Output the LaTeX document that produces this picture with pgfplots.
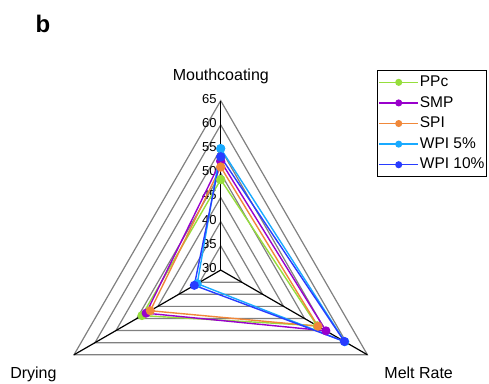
\documentclass[border=0pt]{standalone}
\usepackage{pgfplots}
\pgfplotsset{compat=1.18}
\usepackage{pgfplotstable}
\usepackage{fontspec}
\setmainfont{Liberation Sans}

\definecolor{cppc}{RGB}{150,222,60}
\definecolor{csmp}{RGB}{153,0,204}
\definecolor{cspi}{RGB}{240,136,58}
\definecolor{cwpia}{RGB}{25,170,255}
\definecolor{cwpib}{RGB}{40,60,255}
\definecolor{cgrid}{RGB}{128,128,128}

% angle: 90 = Mouthcoating, 210 = Drying, 330 = Melt Rate
\pgfplotstableread{
a v
90 48.7
210 48.8
330 53.0
90 48.7
}\ppc
\pgfplotstableread{
a v
90 52.5
210 47.8
330 55.1
90 52.5
}\smp
\pgfplotstableread{
a v
90 51.3
210 46.8
330 53.2
90 51.3
}\spi
\pgfplotstableread{
a v
90 55.1
210 35.6
330 59.6
90 55.1
}\wpia
\pgfplotstableread{
a v
90 53.4
210 36.3
330 59.5
90 53.4
}\wpib

\begin{document}
\begin{tikzpicture}
\begin{axis}[
  x=4.84pt, y=4.84pt,
  xmin=-45.6, xmax=55.43, ymin=-23.35, ymax=55.8,
  hide axis, clip=false,
  radar/.style={line width=1.4pt, mark=*, mark size=3.8pt},
  legend style={at={(axis cs:32.29,41.32)}, anchor=north west, draw=black, line width=1pt,
    font=\fontsize{15.5}{18}\selectfont, inner xsep=1pt, inner ysep=3pt, row sep=3.1pt,
    nodes={inner sep=1pt, text height=12pt, text depth=3.5pt}},
  legend cell align=left,
  legend image code/.code={
    \draw[#1, line width=1.4pt, mark=none] (0pt,0pt) -- (39pt,0pt);
    \draw[#1, mark size=3pt, line width=1pt] plot coordinates {(19.5pt,0pt)};
  },
]
\coordinate (BL) at (axis cs:-45.6,-23.35);
\coordinate (TR) at (axis cs:55.43,55.8);
% grid triangles
\pgfplotsinvokeforeach{5,10,15,20,25,30,35}{
  \draw[cgrid, line width=1.2pt] (axis cs:0,#1) -- (axis cs:{-0.8660*#1},{-0.5*#1}) -- (axis cs:{0.8660*#1},{-0.5*#1}) -- cycle;
}
% spokes
\draw[black, line width=1.2pt] (axis cs:0,0) -- (axis cs:0,35);
\draw[black, line width=1.2pt] (axis cs:0,0) -- (axis cs:-30.31,-17.5);
\draw[black, line width=1.2pt] (axis cs:0,0) -- (axis cs:30.31,-17.5);
% tick labels
\pgfplotsinvokeforeach{30,35,40,45,50,55,60,65}{
  \node[anchor=east, inner sep=0pt, font=\fontsize{13}{15}\selectfont] at (axis cs:-0.8,{#1-30+0.4}) {#1};
}
\node[anchor=base, inner sep=0pt, font=\fontsize{16}{18}\selectfont] at (axis cs:0.02,39.1) {Mouthcoating};
\node[anchor=base, inner sep=0pt, font=\fontsize{16}{18}\selectfont] at (axis cs:-38.7,-22.4) {Drying};
\node[anchor=base, inner sep=0pt, font=\fontsize{16}{18}\selectfont] at (axis cs:40.9,-22.4) {Melt Rate};
\node[inner sep=0pt, font=\fontsize{24}{26}\selectfont\bfseries] at (axis cs:-36.7,50.8) {b};

\addplot[radar, color=cppc] table[x expr={(\thisrow{v}-30)*cos(\thisrow{a})}, y expr={(\thisrow{v}-30)*sin(\thisrow{a})}]{\ppc};
\addlegendentry{PPc}
\addplot[radar, color=csmp] table[x expr={(\thisrow{v}-30)*cos(\thisrow{a})}, y expr={(\thisrow{v}-30)*sin(\thisrow{a})}]{\smp};
\addlegendentry{SMP}
\addplot[radar, color=cspi] table[x expr={(\thisrow{v}-30)*cos(\thisrow{a})}, y expr={(\thisrow{v}-30)*sin(\thisrow{a})}]{\spi};
\addlegendentry{SPI}
\addplot[radar, color=cwpia] table[x expr={(\thisrow{v}-30)*cos(\thisrow{a})}, y expr={(\thisrow{v}-30)*sin(\thisrow{a})}]{\wpia};
\addlegendentry{WPI 5\%}
\addplot[radar, color=cwpib] table[x expr={(\thisrow{v}-30)*cos(\thisrow{a})}, y expr={(\thisrow{v}-30)*sin(\thisrow{a})}]{\wpib};
\addlegendentry{WPI 10\%}
\end{axis}
\pgfresetboundingbox
\path[use as bounding box] (BL) rectangle (TR);
\end{tikzpicture}
\end{document}
